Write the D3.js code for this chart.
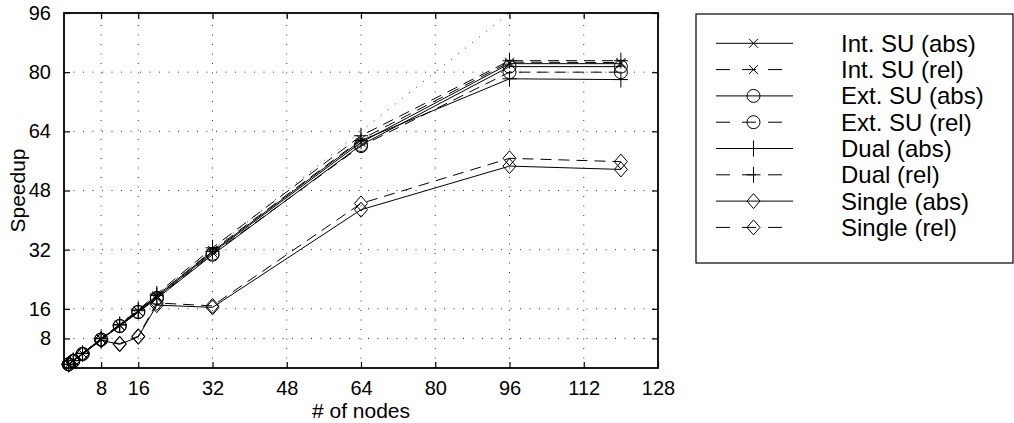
<!DOCTYPE html>
<html><head><meta charset="utf-8">
<script src="https://cdn.jsdelivr.net/npm/d3@7"></script>
<style>body{margin:0;background:#fff}svg{display:block;font-family:"Liberation Sans",Arial,Helvetica,sans-serif}</style>
</head><body>
<svg id="c" width="1014" height="423"></svg>
<script>
const nodes = [1, 2, 4, 8, 12, 16, 20, 32, 64, 96, 120];
const intAbs = [1, 2, 3.9, 7.8, 11.5, 15.3, 19.2, 31.2, 61.0, 82.3, 82.3];
const intRel = [1, 2, 3.9, 7.9, 11.6, 15.4, 19.5, 31.8, 61.8, 82.7, 82.6];
const extAbs = [1, 1.9, 3.8, 7.7, 11.3, 15.1, 18.8, 30.6, 60.3, 81.5, 81.5];
const extRel = [1, 1.9, 3.8, 7.7, 11.4, 15.2, 19.0, 30.9, 60.0, 80.0, 80.0];
const dualAbs = [1, 2, 3.9, 7.9, 11.6, 15.5, 19.6, 31.5, 61.5, 78.2, 78.0];
const dualRel = [1, 2, 4.0, 8.0, 11.8, 15.7, 20.0, 32.5, 62.8, 83.1, 83.1];
const singleAbs = [1, 1.9, 3.8, 7.5, 6.4, 8.4, 17.0, 16.4, 42.8, 54.6, 53.7];
const singleRel = [1, 1.9, 3.8, 7.6, 6.6, 8.6, 17.6, 16.8, 44.5, 56.7, 55.8];
const idealX = [0, 96];
const xTicks = [8, 16, 32, 48, 64, 80, 96, 112, 128];
const yTicks = [8, 16, 32, 48, 64, 80, 96];
const seriesNames = ["Int. SU (abs)", "Int. SU (rel)", "Ext. SU (abs)", "Ext. SU (rel)", "Dual (abs)", "Dual (rel)", "Single (abs)", "Single (rel)"];
const seriesValues = [intAbs, intRel, extAbs, extRel, dualAbs, dualRel, singleAbs, singleRel];
const seriesMarkers = ["x", "x", "o", "o", "+", "+", "d", "d"];
const seriesDashed = [false, true, false, true, false, true, false, true];

const svg = d3.select("#c");
const L = 64, R = 658, T = 13, B = 368;
const x = d3.scaleLinear().domain([0, 128]).range([L, R]);
const y = d3.scaleLinear().domain([0, 96]).range([B, T]);

// grid
const g = svg.append("g");
g.selectAll(".gx").data(xTicks.filter(d => d < 128)).enter().append("line")
  .attr("x1", d => x(d)).attr("x2", d => x(d)).attr("y1", B).attr("y2", T)
  .attr("stroke", "#333").attr("stroke-width", 1).attr("stroke-dasharray", "1,8.5");
g.selectAll(".gy").data(yTicks.filter(d => d < 96)).enter().append("line")
  .attr("y1", d => y(d)).attr("y2", d => y(d)).attr("x1", L).attr("x2", R)
  .attr("stroke", "#333").attr("stroke-width", 1).attr("stroke-dasharray", "1,8.5");

// ideal line
svg.append("line").attr("x1", x(idealX[0])).attr("y1", y(idealX[0])).attr("x2", x(idealX[1])).attr("y2", y(idealX[1]))
  .attr("stroke", "#333").attr("stroke-width", 1).attr("stroke-dasharray", "1,8");

// axes
const xAxisB = d3.axisBottom(x).tickValues(xTicks).tickSizeInner(-6).tickSizeOuter(0).tickPadding(13);
const yAxisL = d3.axisLeft(y).tickValues(yTicks).tickSizeInner(-6).tickSizeOuter(0).tickPadding(13);
const xAxisT = d3.axisTop(x).tickValues(xTicks).tickSizeInner(-6).tickSizeOuter(0).tickFormat("");
const yAxisR = d3.axisRight(y).tickValues(yTicks).tickSizeInner(-6).tickSizeOuter(0).tickFormat("");
function styleAxis(sel) {
  sel.select(".domain").remove();
  sel.selectAll("line").attr("stroke", "#000").attr("stroke-width", 1.2);
  sel.selectAll("text").attr("fill", "#000").attr("font-size", 20).attr("font-family", "Liberation Sans, Arial, sans-serif");
}
svg.append("g").attr("transform", `translate(0,${B})`).call(xAxisB).call(styleAxis);
svg.append("g").attr("transform", `translate(${L},0)`).call(yAxisL).call(styleAxis);
svg.append("g").attr("transform", `translate(0,${T})`).call(xAxisT).call(styleAxis);
svg.append("g").attr("transform", `translate(${R},0)`).call(yAxisR).call(styleAxis);
svg.append("rect").attr("x", L).attr("y", T).attr("width", R - L).attr("height", B - T)
  .attr("fill", "none").attr("stroke", "#000").attr("stroke-width", 1.8);

// labels
svg.append("text").attr("x", (L + R) / 2).attr("y", 418).attr("text-anchor", "middle")
  .attr("font-size", 21).text("# of nodes");
svg.append("text").attr("transform", `translate(25,${(T + B) / 2}) rotate(-90)`).attr("text-anchor", "middle")
  .attr("font-size", 21).text("Speedup");

function markerPath(type) {
  if (type === "x") return "M-4.5,-4.5L4.5,4.5M-4.5,4.5L4.5,-4.5";
  if (type === "+") return "M-7,0L7,0M0,-8L0,8";
  if (type === "o") return "M6.5,0A6.5,6.5 0 1,1 -6.5,0A6.5,6.5 0 1,1 6.5,0Z";
  if (type === "d") return "M0,-7.5L6.5,0L0,7.5L-6.5,0Z";
}

const line = d3.line().x(d => x(d[0])).y(d => y(d[1]));
seriesValues.forEach((vals, i) => {
  const pts = nodes.map((n, k) => [n, vals[k]]);
  svg.append("path").attr("d", line(pts)).attr("fill", "none").attr("stroke", "#000")
    .attr("stroke-width", 1).attr("stroke-dasharray", seriesDashed[i] ? "11,7" : null);
  svg.append("g").selectAll("path").data(pts).enter().append("path")
    .attr("transform", d => `translate(${x(d[0])},${y(d[1])})`)
    .attr("d", markerPath(seriesMarkers[i])).attr("fill", "none").attr("stroke", "#000").attr("stroke-width", 1);
});

// legend
const lg = svg.append("g");
lg.append("rect").attr("x", 696).attr("y", 14).attr("width", 317).attr("height", 249)
  .attr("fill", "#fff").attr("stroke", "#000").attr("stroke-width", 1.2);
seriesNames.forEach((name, i) => {
  const cy = 43.3 + 26.3 * i;
  lg.append("line").attr("x1", 716).attr("x2", 793).attr("y1", cy).attr("y2", cy)
    .attr("stroke", "#000").attr("stroke-width", 1)
    .attr("stroke-dasharray", seriesDashed[i] ? "14,12,14,12" : null);
  lg.append("path").attr("transform", `translate(753.5,${cy})`).attr("d", markerPath(seriesMarkers[i]))
    .attr("fill", "none").attr("stroke", "#000").attr("stroke-width", 1);
  lg.append("text").attr("x", 841).attr("y", cy + 8.5).attr("font-size", 24).text(name);
});
</script>
</body></html>
